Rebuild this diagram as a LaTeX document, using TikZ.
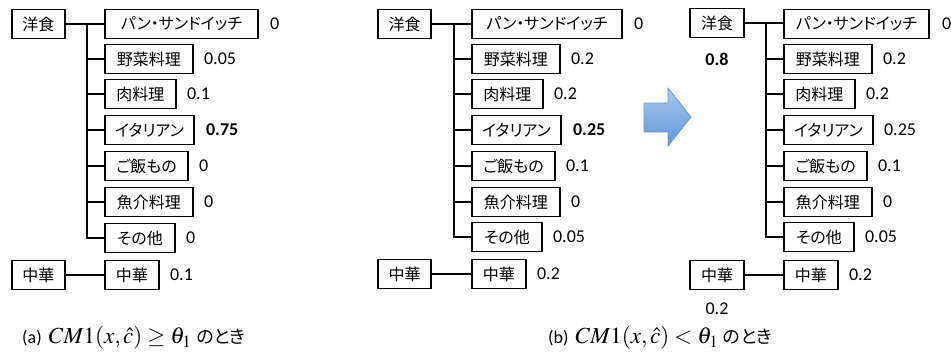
\documentclass[tikz,border=0pt]{standalone}
\usepackage{mathptmx}
\usepackage{fontspec}
\setmainfont{Carlito}
\newfontfamily\jp[RawFeature=+palt]{Noto Sans CJK JP}
\usetikzlibrary{positioning}
\definecolor{arrowtop}{HTML}{A9C9EF}
\definecolor{arrowbot}{HTML}{5F96D9}
\definecolor{arrowline}{HTML}{6A9AD3}

\begin{document}
\begin{tikzpicture}[x=1pt,y=-1pt,
  box/.style={draw,line width=1.9pt,minimum height=29pt,inner sep=0pt,font=\jp\fontsize{16}{17}\selectfont},
  val/.style={inner sep=0pt,font=\fontsize{18}{20}\selectfont},
  link/.style={line width=1.9pt},
  caption/.style={anchor=west,inner sep=0pt,font=\fontsize{18}{20}\selectfont}]
 \useasboundingbox (0,0) rectangle (951,360);
 % tree (a)
 \node[box,minimum width=53pt] (aw) at (38.5,24) {洋食};
 \node[box,minimum width=153pt,anchor=west] (a1) at (104,24) {パン・サンドイッチ};
 \node[box,minimum width=88pt,anchor=west] (a2) at (104,59) {野菜料理};
 \node[box,minimum width=71pt,anchor=west] (a3) at (104,94) {肉料理};
 \node[box,minimum width=89pt,anchor=west] (a4) at (104,130) {イタリアン};
 \node[box,minimum width=83pt,anchor=west] (a5) at (104,166) {ご飯もの};
 \node[box,minimum width=88pt,anchor=west] (a6) at (104,202) {魚介料理};
 \node[box,minimum width=70pt,anchor=west] (a7) at (104,238) {その他};
 \node[box,minimum width=53pt] (ac) at (38.5,275) {中華};
 \node[box,minimum width=54pt,anchor=west] (ac1) at (104,275) {中華};
 \draw[link] (aw.east) -- (a1.west);
 \draw[link] (a1.west) ++(-17,0) |- (a7.west);
 \foreach \i in {2,...,6} \draw[link] (a\i.west) -- ++(-17,0);
 \draw[link] (ac.east) -- (ac1.west);
 \node[val,right=11pt of a1] (a1v) {0};
 \node[val,right=10pt of a2] (a2v) {0.05};
 \node[val,right=10pt of a3] (a3v) {0.1};
 \node[val,right=11pt of a4] (a4v) {\textbf{0.75}};
 \node[val,right=10pt of a5] (a5v) {0};
 \node[val,right=10pt of a6] (a6v) {0};
 \node[val,right=10pt of a7] (a7v) {0};
 \node[val,right=10pt of ac1] (ac1v) {0.1};
 \node[caption] (capa) at (22,338) {(a)\, {\fontsize{23}{25}\selectfont$CM1(x,\hat{c})\ge\theta_1$}\;{\jp のとき}};
 % tree (b)
 \node[box,minimum width=53pt] (bw) at (404.5,24) {洋食};
 \node[box,minimum width=150pt,anchor=west] (b1) at (471,24) {パン・サンドイッチ};
 \node[box,minimum width=88pt,anchor=west] (b2) at (471,59) {野菜料理};
 \node[box,minimum width=71pt,anchor=west] (b3) at (471,94) {肉料理};
 \node[box,minimum width=89pt,anchor=west] (b4) at (471,130) {イタリアン};
 \node[box,minimum width=83pt,anchor=west] (b5) at (471,166) {ご飯もの};
 \node[box,minimum width=88pt,anchor=west] (b6) at (471,202) {魚介料理};
 \node[box,minimum width=70pt,anchor=west] (b7) at (471,237) {その他};
 \node[box,minimum width=53pt] (bc) at (404.5,274) {中華};
 \node[box,minimum width=54pt,anchor=west] (bc1) at (471,274) {中華};
 \draw[link] (bw.east) -- (b1.west);
 \draw[link] (b1.west) ++(-17,0) |- (b7.west);
 \foreach \i in {2,...,6} \draw[link] (b\i.west) -- ++(-17,0);
 \draw[link] (bc.east) -- (bc1.west);
 \node[val,right=11pt of b1] (b1v) {0};
 \node[val,right=10pt of b2] (b2v) {0.2};
 \node[val,right=10pt of b3] (b3v) {0.2};
 \node[val,right=11pt of b4] (b4v) {\textbf{0.25}};
 \node[val,right=10pt of b5] (b5v) {0.1};
 \node[val,right=10pt of b6] (b6v) {0};
 \node[val,right=10pt of b7] (b7v) {0.05};
 \node[val,right=10pt of bc1] (bc1v) {0.2};
 \node[caption] (capb) at (548,338) {(b)\, {\fontsize{23}{25}\selectfont$CM1(x,\hat{c})<\theta_1$}\;{\jp のとき}};
 % arrow
 \shadedraw[top color=arrowtop,bottom color=arrowbot,draw=arrowline,line width=0.8pt]
   (644,103) -- (668,103) -- (668,88) -- (691,117) -- (668,146) -- (668,132) -- (644,132) -- cycle;
 % tree (c)
 \node[box,minimum width=54pt] (cw) at (717,23) {洋食};
 \node[box,minimum width=145pt,anchor=west] (c1) at (783,24) {パン・サンドイッチ};
 \node[box,minimum width=88pt,anchor=west] (c2) at (783,59) {野菜料理};
 \node[box,minimum width=71pt,anchor=west] (c3) at (783,94) {肉料理};
 \node[box,minimum width=89pt,anchor=west] (c4) at (783,130) {イタリアン};
 \node[box,minimum width=83pt,anchor=west] (c5) at (783,166) {ご飯もの};
 \node[box,minimum width=88pt,anchor=west] (c6) at (783,202) {魚介料理};
 \node[box,minimum width=70pt,anchor=west] (c7) at (783,237) {その他};
 \node[box,minimum width=54pt] (cc) at (717,275) {中華};
 \node[box,minimum width=54pt,anchor=west] (cc1) at (783,275) {中華};
 \draw[link] (cw.east) -- (cw.east -| c1.west);
 \draw[link] (c1.west) ++(-17,0) |- (c7.west);
 \foreach \i in {2,...,6} \draw[link] (c\i.west) -- ++(-17,0);
 \draw[link] (cc.east) -- (cc1.west);
 \node[val,right=12pt of c1] (c1v) {0};
 \node[val,right=10pt of c2] (c2v) {0.2};
 \node[val,right=10pt of c3] (c3v) {0.2};
 \node[val,right=10pt of c4] (c4v) {0.25};
 \node[val,right=10pt of c5] (c5v) {0.1};
 \node[val,right=10pt of c6] (c6v) {0};
 \node[val,right=10pt of c7] (c7v) {0.05};
 \node[val,right=10pt of cc1] (cc1v) {0.2};
 \node[val,below=14pt of cw] (cwv) {\textbf{0.8}};
 \node[val,below=12pt of cc] (ccv) {0.2};
\end{tikzpicture}
\end{document}
